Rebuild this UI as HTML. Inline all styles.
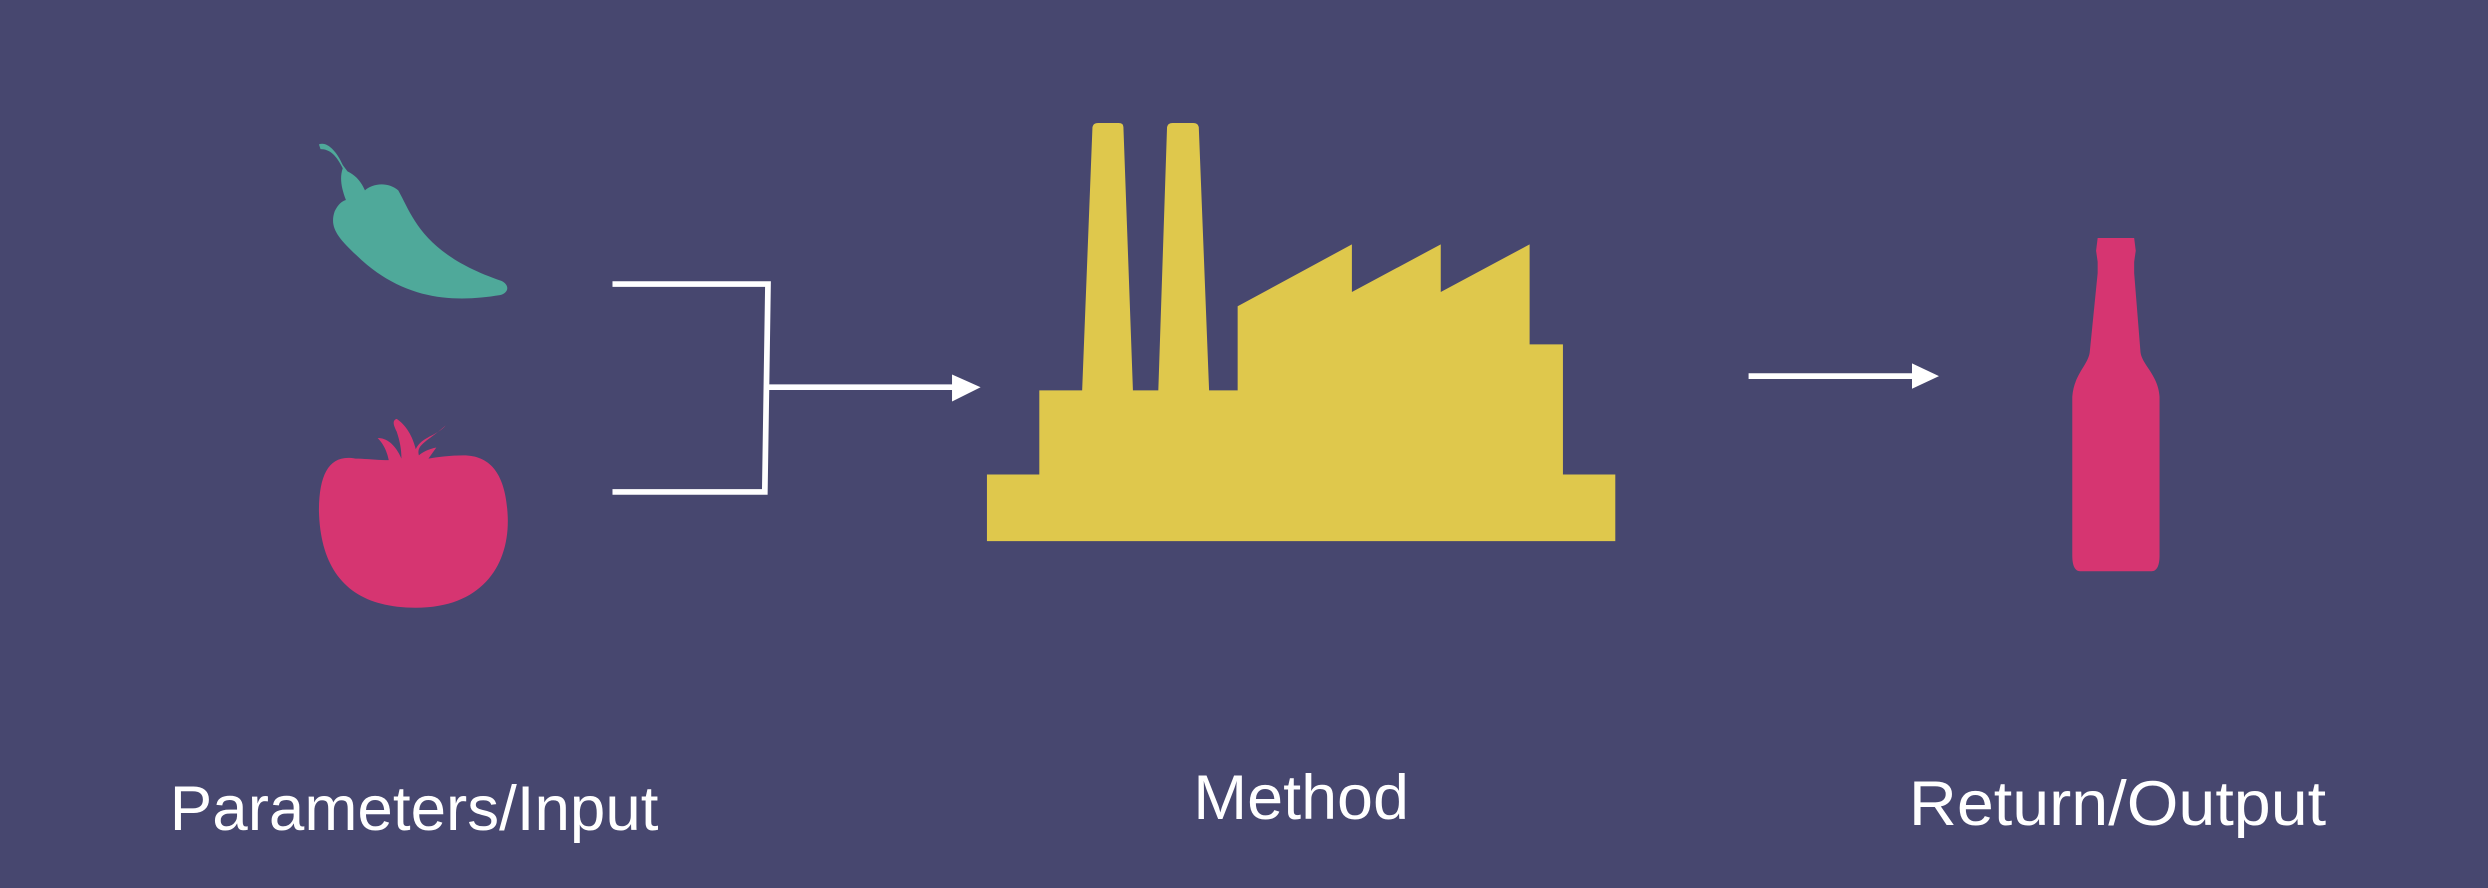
<!DOCTYPE html>
<html><head><meta charset="utf-8"><style>
html,body{margin:0;padding:0;background:#47476f;}
svg{display:block;}
</style></head><body>
<svg width="2488" height="888" viewBox="0 0 1568 559.6" preserveAspectRatio="none" xmlns="http://www.w3.org/2000/svg">
<rect width="1568" height="559.6" fill="#47476f"/>
<!-- pepper -->
<path fill="#4fa99a" d="M201,91 C206,89 212,95 216,104 L219,108 C223,110 227,113 230,120 C234,116 244,114 251,120 C260,136 266,160 316,177 C322,180 320,185 315,186 C290,190 258,191 228,164 C214,151 207,144 211,133 C213,129 215,127 218,126 C215,118 214,112 216,106 C212,98 208,94 202,94 Z"/>
<!-- tomato -->
<path fill="#d63571" d="M224,289 C208,286 201,298 201,322 C202,362 222,383 262,383 C304,383 321,356 320,326 C319,300 310,287 292,287 C284,287 276,288 270,289 L275,282 C270,283 266,285 264,287 C262,280 270,278 281,268 C275,275 266,275 262,283 C260,275 256,268 250,264 C247,265 248,268 250,272 C252,278 253,283 253,289 C250,282 245,276 238,276 C242,280 244,285 245,290 C238,290 230,289 224,289 Z"/>
<!-- bracket -->
<path d="M386,179 L484,179 L482,310 L386,310 M482,244 L602,244" fill="none" stroke="#fff" stroke-width="3.6"/>
<polygon points="600,236 618,244 600,253" fill="#fff"/>
<!-- factory -->
<path fill="#dfc84c" d="M622,299 L655,299 L655,246 L682,246 L688.5,80 Q689,77.5 692,77.5 L705,77.5 Q708,77.5 708,80 L714,246 L730,246 L735.5,80 Q736,77.5 739,77.5 L752,77.5 Q755,77.5 755.5,80 L762,246 L780,246 L780,193 L852,154 L852,184 L908,154 L908,184 L964,154 L964,217 L985,217 L985,299 L1018,299 L1018,341 L622,341 Z"/>
<!-- arrow 2 -->
<path d="M1102,237 L1207,237" stroke="#fff" stroke-width="3.6"/>
<polygon points="1205,229 1222,237 1205,245" fill="#fff"/>
<!-- bottle -->
<path fill="#d63571" d="M1322,150 L1345,150 L1346,158 L1345,165 L1345,172 L1349,222 C1350,230 1360,236 1361,250 L1361,350 C1361,357 1359,360 1356,360 L1311,360 C1308,360 1306,357 1306,350 L1306,250 C1307,236 1316,230 1317,222 L1322,172 L1322,165 L1321,158 Z"/>
<!-- labels -->
<g fill="#ffffff" font-family="'Liberation Sans', sans-serif" font-size="40">
<text x="107" y="523" textLength="308" lengthAdjust="spacingAndGlyphs">Parameters/Input</text>
<text x="752" y="516" textLength="136" lengthAdjust="spacingAndGlyphs">Method</text>
<text x="1203" y="520" textLength="263" lengthAdjust="spacingAndGlyphs">Return/Output</text>
</g>
</svg>
</body></html>
